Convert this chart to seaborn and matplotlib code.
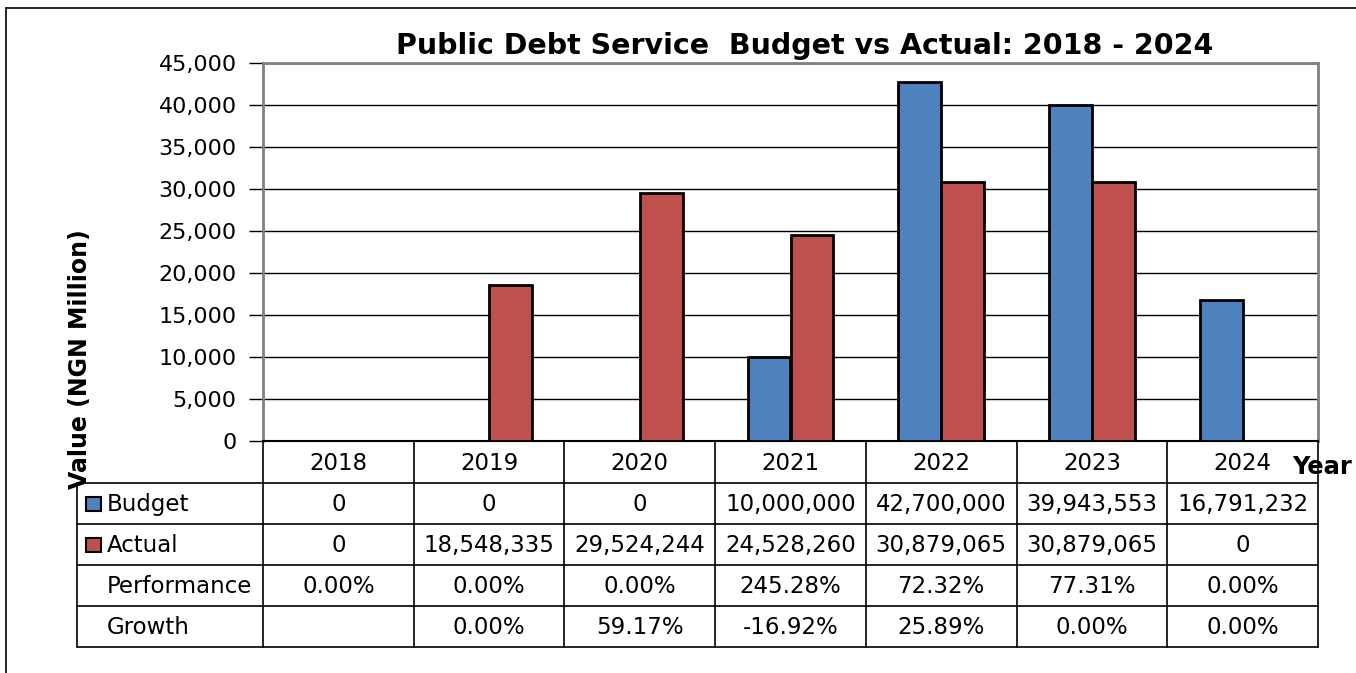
import matplotlib
matplotlib.use("Agg")
import matplotlib.pyplot as plt
import matplotlib.transforms as mtransforms
from matplotlib.lines import Line2D
from matplotlib.patches import Rectangle
import seaborn as sns
import pandas as pd

years = ["2018", "2019", "2020", "2021", "2022", "2023", "2024"]
budget = [0, 0, 0, 10000000, 42700000, 39943553, 16791232]
actual = [0, 18548335, 29524244, 24528260, 30879065, 30879065, 0]
performance = ["0.00%", "0.00%", "0.00%", "245.28%", "72.32%", "77.31%", "0.00%"]
growth = ["", "0.00%", "59.17%", "-16.92%", "25.89%", "0.00%", "0.00%"]
series_names = ["Budget", "Actual"]
colors = {"Budget": "#4F81BD", "Actual": "#C0504D"}

df = pd.DataFrame({
    "Year": years * 2,
    "Series": ["Budget"] * len(years) + ["Actual"] * len(years),
    "Value": [v / 1000 for v in budget] + [v / 1000 for v in actual],
})

sns.set_theme(style="white")
plt.rcParams["font.family"] = ["DejaVu Sans"]
plt.rcParams["text.color"] = "black"
plt.rcParams["ytick.color"] = "black"
plt.rcParams["xtick.color"] = "black"

W, H = 1356, 673
fig = plt.figure(figsize=(W / 100, H / 100), dpi=100)
fig.patch.set_facecolor("white")

def fx(px):
    return px / W

def fy(py):
    return 1 - py / H

ax = fig.add_axes([fx(263), fy(441), fx(1318) - fx(263), fy(63) - fy(441)])
sns.barplot(data=df, x="Year", y="Value", hue="Series", palette=colors,
            saturation=1, width=0.57, edgecolor="black", linewidth=2, ax=ax,
            zorder=3)
if ax.get_legend():
    ax.get_legend().remove()

ax.set_xlim(-0.5, len(years) - 0.5)
ax.set_ylim(0, 45000)
ax.set_yticks(range(0, 45001, 5000))
ax.set_yticklabels([f"{t:,}" for t in range(0, 45001, 5000)], fontsize=16,
                   color="black")
ax.set_xticks([])
ax.set_xlabel("")
ax.set_ylabel("")
ax.grid(axis="y", color="black", linewidth=1, zorder=0)
ax.set_axisbelow(True)
ax.tick_params(axis="y", which="both", left=True, length=10, width=1,
               color="black", pad=9)
for s in ["top", "right", "left"]:
    ax.spines[s].set_color("#808080")
    ax.spines[s].set_linewidth(2)
ax.spines["bottom"].set_color("black")
ax.spines["bottom"].set_linewidth(1.5)

# title and axis labels
fig.text(fx(805), fy(46), "Public Debt Service  Budget vs Actual: 2018 - 2024",
         ha="center", va="center", fontsize=20.5, fontweight="bold")
fig.text(fx(80), fy(359), "Value (NGN Million)", rotation=90, ha="center",
         va="center", fontsize=17, fontweight="bold")
fig.text(fx(1322), fy(467), "Year", ha="center", va="center", fontsize=17.5,
         fontweight="bold")

# data table
trans = mtransforms.blended_transform_factory(ax.transData, fig.transFigure)
row_y = [441, 483, 524, 565, 606, 647]
x_right = len(years) - 0.5

for i in range(len(years) + 1):
    xb = i - 0.5
    fig.add_artist(Line2D([xb, xb], [fy(441), fy(647)], transform=trans,
                          color="black", linewidth=1.2))
fig.add_artist(Line2D([fx(77), fx(77)], [fy(483), fy(647)],
                      transform=fig.transFigure, color="black", linewidth=1.2))
x0_fig = fx(77)
x_right_fig = fig.transFigure.inverted().transform(
    ax.transData.transform((x_right, 0)))[0]
for r in row_y[1:]:
    fig.add_artist(Line2D([x0_fig, x_right_fig], [fy(r), fy(r)],
                          transform=fig.transFigure, color="black",
                          linewidth=1.2))

def row_center(k):
    return fy((row_y[k] + row_y[k + 1]) / 2 + 1)

fs = 16.5
for i, y in enumerate(years):
    fig.text(i, row_center(0), y, transform=trans, ha="center", va="center",
             fontsize=fs)
    fig.text(i, row_center(1), f"{budget[i]:,}", transform=trans,
             ha="center", va="center", fontsize=fs)
    fig.text(i, row_center(2), f"{actual[i]:,}", transform=trans,
             ha="center", va="center", fontsize=fs)
    fig.text(i, row_center(3), performance[i], transform=trans,
             ha="center", va="center", fontsize=fs)
    fig.text(i, row_center(4), growth[i], transform=trans,
             ha="center", va="center", fontsize=fs)

row_labels = ["Budget", "Actual", "Performance", "Growth"]
for k, lab in enumerate(row_labels):
    fig.text(fx(107), row_center(k + 1), lab, ha="left", va="center",
             fontsize=fs)
for k, name in enumerate(series_names):
    cy = (row_y[k + 1] + row_y[k + 2]) / 2
    fig.add_artist(Rectangle((fx(86), fy(cy + 7)), fx(15), fy(cy - 7) - fy(cy + 7),
                             transform=fig.transFigure, facecolor=colors[name],
                             edgecolor="black", linewidth=1.5))

# outer chart border (top and left)
fig.add_artist(Line2D([fx(6), fx(6)], [fy(8), 0], transform=fig.transFigure,
                      color="black", linewidth=1.2))
fig.add_artist(Line2D([fx(6), 1], [fy(8), fy(8)], transform=fig.transFigure,
                      color="black", linewidth=1.2))

fig.savefig("out.png", dpi=100, facecolor="white")
